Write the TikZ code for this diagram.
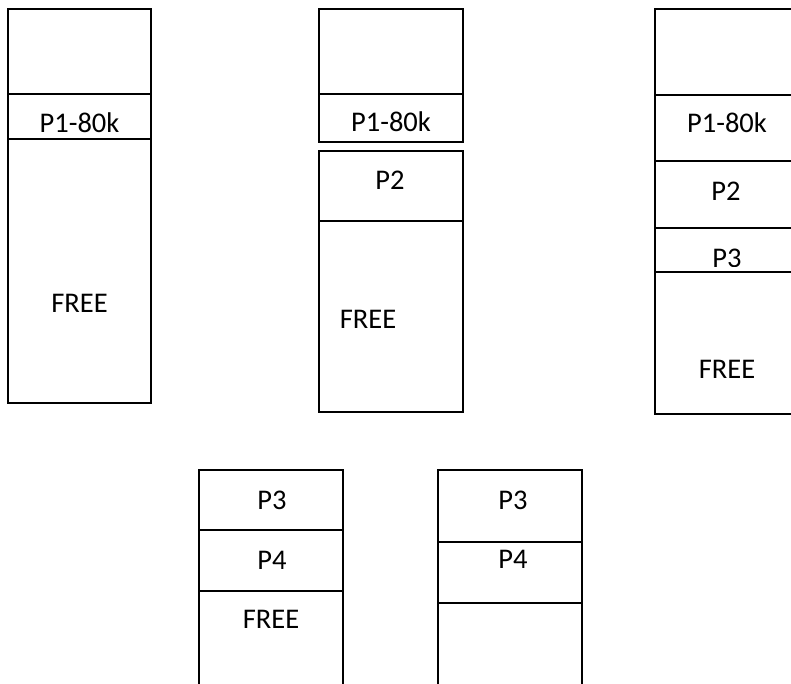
\documentclass[tikz,border=0pt]{standalone}
\usepackage{fontspec}
\setmainfont{Carlito}
\begin{document}
\begin{tikzpicture}
[x=1pt,y=-1pt]
\tikzset{blk/.style={draw,line width=1.8pt}}
\tikzset{lbl/.style={anchor=base,inner sep=0pt,font=\fontsize{28.5}{32}\selectfont}}
\clip (0,0) rectangle (791,683);

% memory after P1
\draw [blk] (8,9) rectangle (151,403);
\foreach \y in {94,139}
	\draw [blk] (8,\y) -- (151,\y);
\node [lbl] (a1) at (79.5,132.5) {P1-80k};
\node [lbl] (a2) at (79.5,312) {FREE};

% memory after P2
\draw [blk] (319,9) rectangle (463,142);
\draw [blk] (319,94) -- (463,94);
\draw [blk] (319,151) rectangle (463,412);
\draw [blk] (319,221) -- (463,221);
\node [lbl] (b1) at (391,131.5) {P1-80k};
\node [lbl] (b2) at (390,189.5) {P2};
\node [lbl] (b3) at (368,328.5) {FREE};

% memory after P3
\draw [blk] (655,9) rectangle (799,414);
\foreach \y in {95,161,228,272}
	\draw [blk] (655,\y) -- (799,\y);
\node [lbl] (c1) at (727,132.5) {P1-80k};
\node [lbl] (c2) at (726,200) {P2};
\begin{scope}
\clip (655,230) rectangle (799,266.5);
\node [lbl] (c3) at (727,267) {P3};
\end{scope}
\node [lbl] (c4) at (727,378.5) {FREE};

% after P1 and P2 leave
\draw [blk] (199,470) rectangle (343,700);
\foreach \y in {530,591}
	\draw [blk] (199,\y) -- (343,\y);
\node [lbl] (d1) at (272,509.5) {P3};
\node [lbl] (d2) at (272,569.5) {P4};
\node [lbl] (d3) at (271,628.5) {FREE};

\draw [blk] (438,470) rectangle (582,700);
\foreach \y in {542,603}
	\draw [blk] (438,\y) -- (582,\y);
\node [lbl] (e1) at (513,509.5) {P3};
\node [lbl] (e2) at (513,568.5) {P4};

\end{tikzpicture}
\end{document}
